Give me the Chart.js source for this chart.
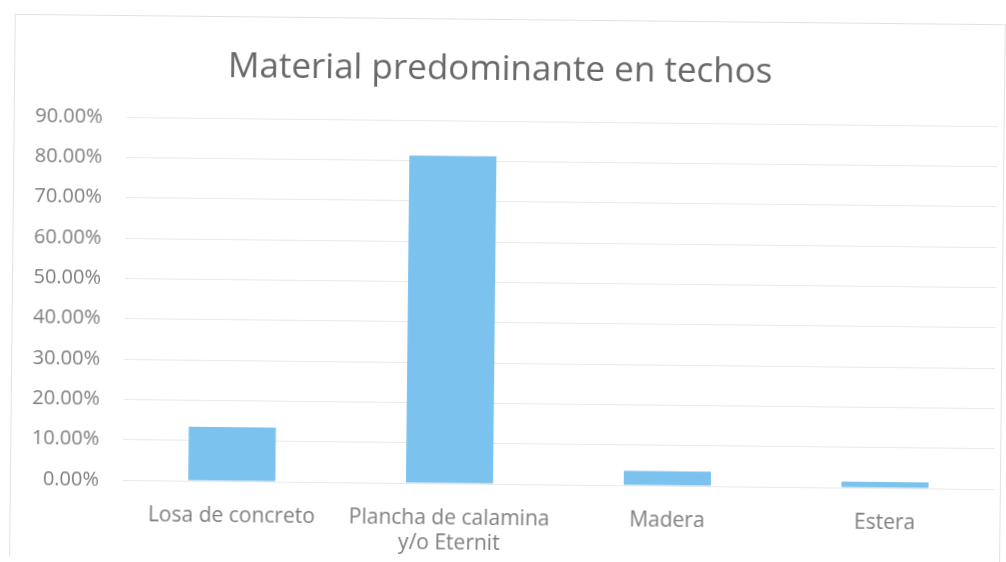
<!DOCTYPE html>
<html>
<head>
<meta charset="utf-8">
<script src="https://cdn.jsdelivr.net/npm/chart.js@4/dist/chart.umd.min.js"></script>
<style>
  html, body { margin: 0; padding: 0; background: #ffffff; overflow: hidden; }
  #wrap { width: 1006px; height: 562px; transform: rotate(0.6deg); transform-origin: 503px 281px; }
  canvas { display: block; }
</style>
</head>
<body>
<div id="wrap"><canvas id="chart" width="1006" height="562"></canvas></div>
<script>
// Roof material categories and their share of dwellings (%)
const categories = [
  ['Losa de concreto'],
  ['Plancha de calamina', 'y/o Eternit'],
  ['Madera'],
  ['Estera']
];
const shares = [13.4, 81.2, 3.6, 1.5];

// Value axis: 0% to 90% in steps of 10
const yMin = 0;
const yMax = 90;
const yStep = 10;
const yDecimals = 2;

const chartTitle = 'Material predominante en techos';

// Thin frame around the whole chart
const framePlugin = {
  id: 'frame',
  beforeDraw(chart) {
    const ctx = chart.ctx;
    ctx.save();
    ctx.strokeStyle = '#e2e2e2';
    ctx.lineWidth = 1;
    ctx.strokeRect(12.5, 19.5, 990, 560);
    ctx.restore();
  }
};

const fontFamily = '"Open Sans", "Liberation Sans", sans-serif';

new Chart(document.getElementById('chart'), {
  type: 'bar',
  data: {
    labels: categories,
    datasets: [{
      data: shares,
      backgroundColor: '#7cc2ee',
      borderWidth: 0,
      barPercentage: 0.4,
      categoryPercentage: 1.0
    }]
  },
  options: {
    responsive: false,
    animation: false,
    layout: { padding: { top: 0, left: 0, right: 10, bottom: 0 } },
    plugins: {
      legend: { display: false },
      tooltip: { enabled: false },
      title: {
        display: true,
        text: chartTitle,
        color: '#686868',
        font: { family: fontFamily, size: 35, weight: 'normal', lineHeight: 1.2 },
        padding: { top: 49, bottom: 30 }
      }
    },
    scales: {
      x: {
        grid: { display: false, drawTicks: false },
        border: { display: false },
        ticks: {
          color: '#7e7e7e',
          font: { family: fontFamily, size: 21, lineHeight: 1.2 },
          padding: 22,
          maxRotation: 0,
          autoSkip: false
        },
        afterFit(scale) { scale.height = 78; }
      },
      y: {
        min: yMin,
        max: yMax,
        grid: { color: '#e9e9e9', drawTicks: false, lineWidth: 1 },
        border: { display: false },
        ticks: {
          stepSize: yStep,
          color: '#7e7e7e',
          font: { family: fontFamily, size: 20 },
          padding: 24,
          callback: (v) => v.toFixed(yDecimals) + '%'
        },
        afterFit(scale) { scale.width = 125; }
      }
    }
  },
  plugins: [framePlugin]
});
</script>
</body>
</html>
